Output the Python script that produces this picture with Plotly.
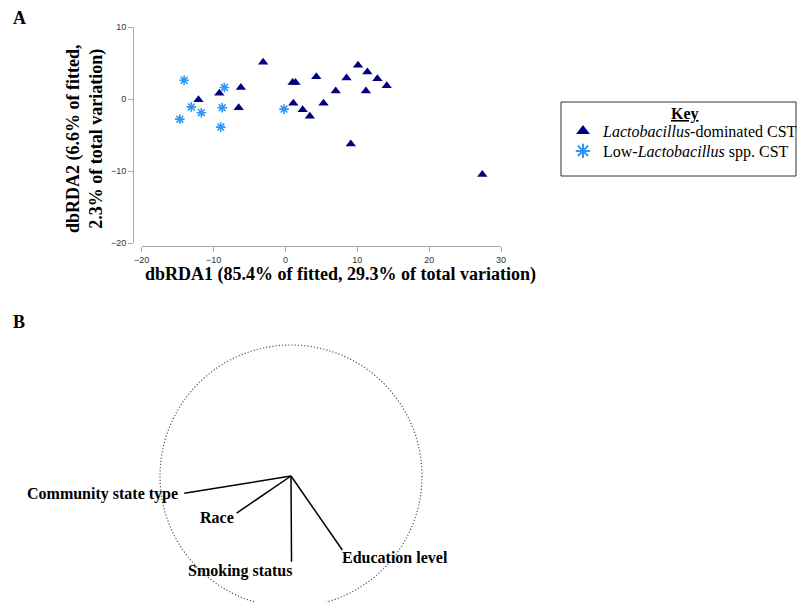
import plotly.graph_objects as go

W, H = 797, 602

# ---- Panel A data: dbRDA ordination scores ----
lacto_x = [-3.1, -12.1, -9.2, -6.2, -6.5, 1.0, 1.4, 4.3, 1.1, 2.4, 3.4, 5.3,
           10.1, 11.4, 12.8, 14.1, 8.5, 7.0, 11.2, 9.1, 27.4]
lacto_y = [5.1, -0.1, 0.8, 1.6, -1.2, 2.3, 2.3, 3.1, -0.6, -1.5, -2.4, -0.6,
           4.7, 3.75, 2.8, 1.85, 2.9, 1.1, 1.1, -6.25, -10.5]
low_x = [-14.1, -8.5, -13.1, -11.7, -14.7, -8.8, -9.0, -0.2]
low_y = [2.6, 1.6, -1.1, -1.9, -2.8, -1.2, -3.9, -1.4]

x_ticks = [-20, -10, 0, 10, 20, 30]
y_ticks = [-20, -10, 0, 10]

series_names = ["<i>Lactobacillus</i>-dominated CST", "Low-<i>Lactobacillus</i> spp. CST"]

# ---- Panel B data: vector overlay (correlation circle) ----
vec_names = ["Community state type", "Race", "Smoking status", "Education level"]
vec_x = [-0.815, -0.415, 0.004, 0.392]
vec_y = [-0.132, -0.283, -0.654, -0.565]


def px_x(p):
    return p / W


def px_y(p):
    return 1 - p / H


SERIF = "Liberation Serif, Times New Roman, serif"
SANS = "Liberation Sans, Arial, sans-serif"

fig = go.Figure()

fig.add_trace(go.Scatter(
    x=lacto_x, y=lacto_y, mode="markers", name=series_names[0], legend="legend",
    marker=dict(symbol="triangle-up", size=9, color="#000080", line=dict(width=0)),
    xaxis="x", yaxis="y"))
fig.add_trace(go.Scatter(
    x=low_x, y=low_y, mode="markers", name=series_names[1], legend="legend2",
    marker=dict(symbol="asterisk-open", size=8, color="#2f97f5",
                line=dict(width=1.6, color="#2f97f5")),
    xaxis="x", yaxis="y"))

# vectors in panel B
for nx, ny in zip(vec_x, vec_y):
    fig.add_trace(go.Scatter(
        x=[0, nx], y=[0, ny], mode="lines", showlegend=False,
        line=dict(color="black", width=1.5), xaxis="x2", yaxis="y2",
        hoverinfo="skip"))

# Panel B circle centre/radius in pixels
cx, cy, r = 291, 476, 131
x2_lo, x2_hi = (140 - cx) / r, (440 - cx) / r
y2_lo, y2_hi = (cy - H) / r, (cy - 330) / r


def paper_ann(text, x, y, size, angle=0):
    return dict(text=text, x=px_x(x), y=px_y(y), xref="paper", yref="paper",
                xanchor="center", yanchor="middle", showarrow=False, textangle=angle,
                font=dict(family=SERIF, size=size, color="black"))


annotations = [
    paper_ann("<b>A</b>", 19, 18, 18),
    paper_ann("<b>B</b>", 19, 322, 18),
    paper_ann("<b>dbRDA1 (85.4% of fitted, 29.3% of total variation)</b>", 340, 274, 18),
    paper_ann("<b>dbRDA2 (6.6% of fitted,<br>2.3% of total variation)</b>", 85, 139, 18, -90),
    paper_ann("<b><u>Key</u></b>", 685, 114, 16),
]

# vector labels
label_cfg = [
    dict(xanchor="right", xshift=-4, yshift=-1),
    dict(xanchor="right", xshift=-1, yshift=-4),
    dict(xanchor="right", xshift=2, yshift=-9),
    dict(xanchor="left", xshift=-2, yshift=-7),
]
for name, nx, ny, cfg in zip(vec_names, vec_x, vec_y, label_cfg):
    annotations.append(dict(text="<b>%s</b>" % name, x=nx, y=ny, xref="x2", yref="y2",
                            showarrow=False, yanchor="middle",
                            font=dict(family=SERIF, size=16, color="black"), **cfg))

shapes = [
    # legend box
    dict(type="rect", xref="paper", yref="paper", x0=px_x(561), x1=px_x(796),
         y0=px_y(176), y1=px_y(102), line=dict(color="#333333", width=1)),
    # correlation circle
    dict(type="circle", xref="x2", yref="y2", x0=-1, x1=1, y0=-1, y1=1,
         line=dict(color="#555555", width=1.2, dash="1.2px,2px")),
]

axis_common = dict(showgrid=False, zeroline=False, showline=True, linecolor="#aaaaaa",
                   linewidth=1, ticks="outside", ticklen=5, tickcolor="#aaaaaa",
                   automargin=False,
                   tickfont=dict(family=SANS, size=9, color="#333333"))

legend_common = dict(xanchor="left", yanchor="top", bgcolor="rgba(0,0,0,0)",
                     borderwidth=0, font=dict(family=SERIF, size=16, color="black"),
                     itemsizing="constant")

fig.update_layout(
    width=W, height=H, margin=dict(l=0, r=0, t=0, b=0, autoexpand=False),
    paper_bgcolor="white", plot_bgcolor="rgba(0,0,0,0)",
    xaxis=dict(domain=[px_x(141.7), px_x(501)], range=[-20, 30], tickvals=x_ticks,
               anchor="free", position=px_y(246), **axis_common),
    yaxis=dict(domain=[px_y(243), px_y(27)], range=[-20, 10], tickvals=y_ticks,
               anchor="free", position=px_x(133), **axis_common),
    xaxis2=dict(domain=[px_x(140), px_x(440)], range=[x2_lo, x2_hi], visible=False,
                anchor="y2"),
    yaxis2=dict(domain=[0, px_y(330)], range=[y2_lo, y2_hi], visible=False, anchor="x2"),
    showlegend=True,
    legend=dict(x=px_x(563), y=px_y(114), **legend_common),
    legend2=dict(x=px_x(563), y=px_y(134), **legend_common),
    annotations=annotations, shapes=shapes,
)

fig.write_html("out.html", config={"displayModeBar": False},
               post_script="document.body.style.margin='0';")
